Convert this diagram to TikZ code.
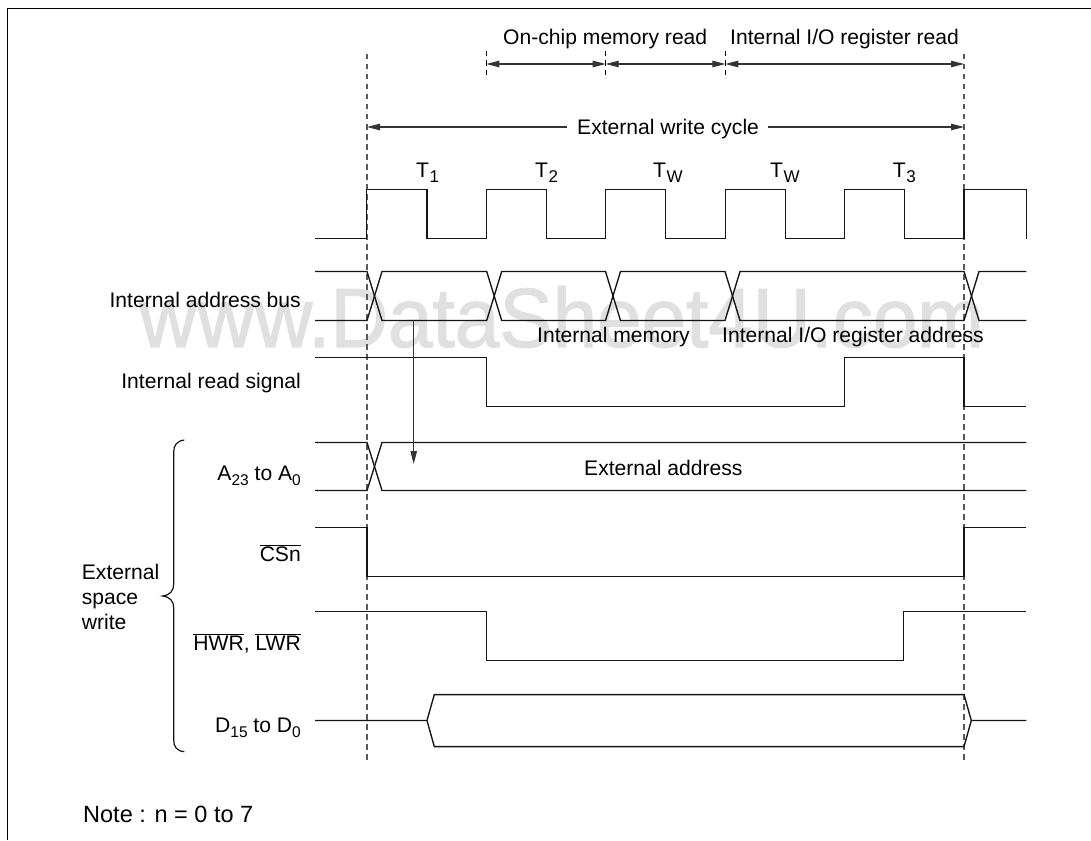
\documentclass[tikz,border=0pt]{standalone}
\usepackage{fontspec}
\setmainfont{Liberation Sans}
\newfontfamily\wmfont[FakeBold=1.5]{Liberation Sans}
\usetikzlibrary{arrows.meta}
\newcommand{\lowsub}[1]{\raisebox{-0.24em}{\fontsize{15.5}{17}\selectfont #1}}
\newcommand{\clksub}[1]{\kern0.5pt\raisebox{-0.25em}{\fontsize{17}{19}\selectfont #1}}
\newcommand{\barred}[1]{$\overline{\mbox{#1}}$}
\definecolor{wavecol}{gray}{0.08}
\definecolor{dimcol}{gray}{0.2}
\definecolor{guidecol}{gray}{0.35}
\definecolor{markcol}{gray}{0.88}
\tikzset{
  x=1pt,y=-1pt,
  wave/.style={draw=wavecol,line width=1.35pt,line join=miter},
  guideline/.style={draw=guidecol,line width=1.2pt,dash pattern=on 5.5pt off 4.5pt},
  tickline/.style={draw=black,line width=1.1pt,dash pattern=on 5.5pt off 4pt},
  dimline/.style={draw=dimcol,line width=1.1pt,{Triangle[length=13pt,width=6.5pt]}-{Triangle[length=13pt,width=6.5pt]}},
  dimhalf/.style={draw=dimcol,line width=1.1pt,-{Triangle[length=13pt,width=6.5pt]}},
  lab/.style={inner sep=0pt,font=\fontsize{21.1}{25}\selectfont,text=black},
  labw/.style={lab,anchor=base west},
  labe/.style={lab,anchor=base east},
  wmark/.style={inner sep=0pt,anchor=base west,font=\fontsize{80}{90}\wmfont,text=markcol},
}
\begin{document}
\begin{tikzpicture}
\useasboundingbox (0,0) rectangle (1091,840);
% watermark
\node[wmark] (wm) at (139,347) {\scalebox{1}[1.05]{www.DataSheet4U.com}};
% frame
\draw[draw=black,line width=1.4pt] (7.5,840) -- (7.5,8.5) -- (1091,8.5);
% guides
\draw[guideline] (367,54) -- (367,763);
\draw[guideline] (964,54) -- (964,763);
\draw[tickline] (486.3,51) -- (486.3,79);
\draw[tickline] (605.7,51) -- (605.7,79);
\draw[tickline] (725.3,51) -- (725.3,79);
% dimension arrows
\coordinate (a1) at (486.3,64);
\coordinate (a2) at (605.7,64);
\coordinate (a3) at (725.3,64);
\coordinate (a4) at (964,64);
\draw[dimline] (a1) -- (a2);
\draw[dimline] (a2) -- (a3);
\draw[dimline] (a3) -- (a4);
\coordinate (e0) at (367,127);
\coordinate (e1) at (566.7,127);
\coordinate (e2) at (767.7,127);
\coordinate (e3) at (964,127);
\draw[dimhalf] (e1) -- (e0);
\draw[dimhalf] (e2) -- (e3);
% top labels
\node[labw] (onchip) at (503,45) {On-chip memory read};
\node[labw] (iordr) at (730,45) {Internal I/O register read};
\node[labw] (extcyc) at (577,134) {External write cycle};
\node[labw] (t1) at (416,177) {T\clksub{1}};
\node[labw] (t2) at (535,177) {T\clksub{2}};
\node[labw] (tw1) at (653,177) {T\clksub{W}};
\node[labw] (tw2) at (770,177) {T\clksub{W}};
\node[labw] (t3) at (892.7,177) {T\clksub{3}};
% clock
\draw[wave] (315,238.5) -- (366.7,238.5) -- (366.7,189.5) -- (427,189.5) -- (427,238.5) -- (486.5,238.5) -- (486.5,189.5) -- (546.5,189.5) -- (546.5,238.5) -- (605.5,238.5) -- (605.5,189.5) -- (665.5,189.5) -- (665.5,238.5) -- (725.5,238.5) -- (725.5,189.5) -- (785.5,189.5) -- (785.5,238.5) -- (844.5,238.5) -- (844.5,189.5) -- (904.5,189.5) -- (904.5,238.5) -- (964,238.5) -- (964,189.5) -- (1026.5,189.5) -- (1026.5,238.5);
% internal address bus
\draw[wave] (315,271.5) -- (367,271.5) -- (382,320.5) -- (486.7,320.5) -- (501.7,271.5) -- (605.5,271.5) -- (620.5,320.5) -- (725,320.5) -- (740,271.5) -- (964,271.5) -- (979,320.5) -- (1026.3,320.5);
\draw[wave] (315,320.5) -- (367,320.5) -- (382,271.5) -- (486.7,271.5) -- (501.7,320.5) -- (605.5,320.5) -- (620.5,271.5) -- (725,271.5) -- (740,320.5) -- (964,320.5) -- (979,271.5) -- (1026.3,271.5);
% internal read
\draw[wave] (315,357.5) -- (486.5,357.5) -- (486.5,406.5) -- (844.5,406.5) -- (844.5,357.5) -- (964,357.5) -- (964,406.5) -- (1026.3,406.5);
% A23..A0
\draw[wave] (315,442.5) -- (367,442.5) -- (382,490.5) -- (1026.3,490.5);
\draw[wave] (315,490.5) -- (367,490.5) -- (382,442.5) -- (1026.3,442.5);
% CSn
\draw[wave] (315,527.7) -- (367,527.7) -- (367,576.7) -- (964,576.7) -- (964,527.7) -- (1026.3,527.7);
% HWR LWR
\draw[wave] (315,611.3) -- (486.5,611.3) -- (486.5,660.5) -- (903.5,660.5) -- (903.5,611.3) -- (1026.3,611.3);
% Data
\draw[wave] (315,720.5) -- (427,720.5) -- (434.3,694.6) -- (964,694.6) -- (971.3,720.5) -- (1026.3,720.5);
\draw[wave] (427,720.5) -- (434.3,746.6) -- (964,746.6) -- (971.3,720.5);
% causal arrow
\coordinate (c0) at (413.7,320.5);
\coordinate (c1) at (413.7,464);
\draw[dimhalf] (c0) -- (c1);
% signal labels
\node[labe] (ia) at (301,307) {Internal address bus};
\node[labe] (ir) at (301,388.5) {Internal read signal};
\node[labe] (addr) at (301,480) {A\lowsub{23} to A\lowsub{0}};
\node[labe] (cs) at (301,561) {\barred{CSn}};
\node[labe] (hwr) at (301,650) {\barred{HWR}, \barred{LWR}};
\node[labe] (data) at (301,732) {D\lowsub{15} to D\lowsub{0}};
\node[labw] (imem) at (537,342) {Internal memory};
\node[labw] (ioreg) at (722,342) {Internal I/O register address};
\node[labw] (eaddr) at (584,475) {External address};
\node[labw] (ext1) at (81.7,579) {External};
\node[labw] (ext2) at (81.7,604) {space};
\node[labw] (ext3) at (81.7,629) {write};
\node[labw,font=\fontsize{23.5}{27}\selectfont] (note) at (83,822.5) {Note : n = 0 to 7};
% brace
\draw[draw=wavecol,line width=1.2pt] (184.3,440) .. controls (177,441) and (173.7,445) .. (173.7,452) -- (173.7,584) .. controls (173.7,591) and (170,595) .. (162.7,596) .. controls (170,597) and (173.7,601) .. (173.7,608) -- (173.7,740) .. controls (173.7,747) and (177,751) .. (184.3,751.7);
\end{tikzpicture}
\end{document}
